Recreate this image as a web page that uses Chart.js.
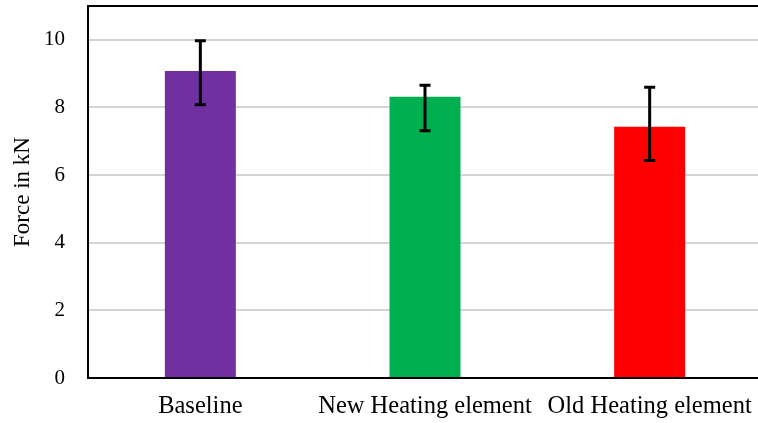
<!DOCTYPE html>
<html>
<head>
<meta charset="utf-8">
<script src="https://cdn.jsdelivr.net/npm/chart.js@4/dist/chart.umd.min.js"></script>
<style>
  html, body { margin: 0; padding: 0; background: #fff; overflow: hidden; }
  #wrap { width: 758px; height: 423px; overflow: hidden; position: relative; }
  canvas { position: absolute; left: 0; top: 0; }
</style>
</head>
<body>
<div id="wrap"><canvas id="chart" width="762" height="423"></canvas></div>
<script>
// Mean peak force per configuration (kN) with upper / lower error extents
const categories = ['Baseline', 'New Heating element', 'Old Heating element'];
const forceMean = [9.08, 8.32, 7.43];
const errUpper = [0.89, 0.34, 1.17];
const errLower = [1.0, 1.01, 1.0];
const barColors = ['#7030A0', '#00B050', '#FF0000'];
const yTicks = [0, 2, 4, 6, 8, 10];
const yMax = 11;

const serif = '"Liberation Serif", "Times New Roman", serif';

// Black frame around the plot area
const framePlugin = {
  id: 'frame',
  afterDatasetsDraw(chart) {
    const { ctx, chartArea: a } = chart;
    ctx.save();
    ctx.strokeStyle = '#000';
    ctx.lineWidth = 2;
    ctx.strokeRect(a.left, a.top, a.right - a.left, a.bottom - a.top);
    ctx.restore();
  }
};

// Vertical error bars with flat caps
const errorBarPlugin = {
  id: 'errorBars',
  afterDatasetsDraw(chart) {
    const { ctx } = chart;
    const y = chart.scales.y;
    const meta = chart.getDatasetMeta(0);
    ctx.save();
    ctx.strokeStyle = '#000';
    ctx.lineWidth = 3;
    meta.data.forEach((bar, i) => {
      const x = bar.x;
      const top = y.getPixelForValue(forceMean[i] + errUpper[i]);
      const bot = y.getPixelForValue(forceMean[i] - errLower[i]);
      const cap = 5.5;
      ctx.beginPath();
      ctx.moveTo(x, top); ctx.lineTo(x, bot);
      ctx.moveTo(x - cap, top); ctx.lineTo(x + cap, top);
      ctx.moveTo(x - cap, bot); ctx.lineTo(x + cap, bot);
      ctx.stroke();
    });
    ctx.restore();
  }
};

new Chart(document.getElementById('chart'), {
  type: 'bar',
  data: {
    labels: categories,
    datasets: [{
      data: forceMean,
      backgroundColor: barColors,
      borderWidth: 0,
      categoryPercentage: 1,
      barPercentage: 0.316
    }]
  },
  options: {
    responsive: false,
    animation: false,
    layout: { padding: { top: 6, left: 0, right: 0, bottom: 0 } },
    plugins: { legend: { display: false }, tooltip: { enabled: false } },
    scales: {
      x: {
        grid: { display: false, drawTicks: false },
        border: { display: false },
        ticks: {
          color: '#000',
          font: { family: serif, size: 24.5 },
          padding: 14,
          maxRotation: 0,
          autoSkip: false
        },
        afterFit(scale) {
          scale.height = 45;
          scale.paddingLeft = 0;
          scale.paddingRight = 0;
        }
      },
      y: {
        min: 0,
        max: yMax,
        grid: { color: '#d4d4d4', lineWidth: 2, drawTicks: false },
        border: { display: false },
        ticks: {
          color: '#000',
          font: { family: serif, size: 21 },
          padding: 23
        },
        afterBuildTicks(scale) { scale.ticks = yTicks.map(v => ({ value: v })); },
        title: {
          display: true,
          text: 'Force in kN',
          color: '#000',
          font: { family: serif, size: 23, weight: 'normal' },
          padding: { top: 9, bottom: 0 }
        },
        afterFit(scale) {
          scale.width = 88;
          scale.paddingTop = 0;
          scale.paddingBottom = 0;
        }
      }
    }
  },
  plugins: [framePlugin, errorBarPlugin]
});
</script>
</body>
</html>
